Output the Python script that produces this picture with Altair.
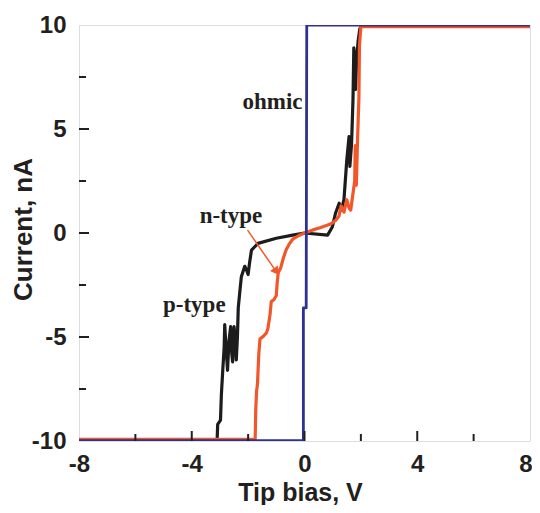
import altair as alt
import pandas as pd

# ---- data ----
p_x = [-8, -3.1, -3.08, -2.98, -2.95, -2.9, -2.85, -2.83, -2.78, -2.73, -2.68, -2.62, -2.58, -2.55,
       -2.5, -2.47, -2.42, -2.38, -2.35, -2.3, -2.24, -2.12, -2.05, -2.0, -1.95, -1.88, -1.65, -1.0,
       -0.42, 0.0, 0.82, 0.99, 1.1, 1.23, 1.31, 1.4, 1.5, 1.58, 1.61, 1.67, 1.72, 1.75, 1.78, 1.81,
       1.85, 1.9, 1.96, 2.02, 8]
p_y = [-9.97, -9.97, -9.2, -9.0, -7.8, -6.6, -5.5, -4.4, -5.6, -6.6, -5.2, -4.5, -5.8, -6.2,
       -4.5, -4.9, -6.1, -5.0, -3.6, -2.9, -2.1, -1.6, -1.8, -2.0, -1.44, -0.82, -0.5, -0.25,
       -0.1, 0.0, -0.1, 0.3, 0.95, 1.43, 1.1, 1.6, 3.5, 4.63, 3.2, 4.3, 6.4, 8.9, 8.5, 6.9,
       8.3, 9.2, 9.8, 9.97, 9.97]

n_x = [-8, -1.75, -1.73, -1.7, -1.67, -1.62, -1.58, -1.45, -1.35, -1.3, -1.22, -1.18, -1.08, -1.0,
       -0.97, -0.93, -0.85, -0.75, -0.65, -0.55, -0.42, -0.2, 0.0, 0.3, 0.55, 0.75, 0.95, 1.1,
       1.22, 1.3, 1.4, 1.5, 1.58, 1.64, 1.72, 1.78, 1.8, 1.84, 1.88, 1.93, 1.95, 2.0, 8]
n_y = [-9.92, -9.92, -8.5, -7.6, -7.3, -5.8, -5.1, -4.95, -4.8, -4.6, -3.9, -3.3, -3.2, -3.0,
       -2.4, -1.9, -1.7, -1.2, -0.8, -0.55, -0.3, -0.12, 0.0, 0.15, 0.25, 0.35, 0.45, 0.6,
       0.8, 1.3, 1.0, 1.6, 1.2, 1.1, 1.9, 2.5, 4.2, 2.3, 4.4, 6.5, 9.0, 9.92, 9.92]

o_x = [-8, -0.04, -0.04, 0.06, 0.08, 8]
o_y = [-9.98, -9.98, -3.6, -3.6, 9.99, 9.99]

x_label_vals = [-8, -4, 0, 4, 8]
y_label_vals = [-10, -5, 0, 5, 10]
x_major_ticks = [-4, 0, 4]
x_minor_ticks = [-6, -2, 2, 6]
y_major_ticks = [-5, 0, 5]
y_minor_ticks = [-7.5, -2.5, 2.5, 7.5]

labels = ["ohmic", "n-type", "p-type"]
label_x = [-2.2, -3.72, -5.02]
label_y = [5.96, 0.48, -3.8]

arrow_x = [-2.02, -1.0]
arrow_y = [0.14, -1.86]

# ---- tables ----
def curve(xs, ys, name):
    return pd.DataFrame({"x": xs, "y": ys, "i": range(len(xs)), "s": name})

black_df = curve(p_x, p_y, "p")
orange_df = curve(n_x, n_y, "n")
blue_df = curve(o_x, o_y, "o")
lab_df = pd.DataFrame({"t": labels, "x": label_x, "y": label_y})
arrow_df = pd.DataFrame({"x": arrow_x, "y": arrow_y, "i": [0, 1]})
head_df = pd.DataFrame({"x": [arrow_x[1]], "y": [arrow_y[1]]})

LEFT, TOP = 71, 17
W, H = 451, 416
xs = alt.Scale(domain=[-8, 8], nice=False, zero=False)
ys = alt.Scale(domain=[-10, 10], nice=False, zero=False)

common = dict(grid=False, domain=False, ticks=False, tickSize=0,
              labelFont="Liberation Sans", titleFont="Liberation Sans", labelFontWeight="bold",
              titleFontWeight="bold", labelColor="#231f20", titleColor="#231f20",
              labelExpr="toString(datum.value)", labelFontSize=24)

xaxis = alt.Axis(values=x_label_vals, title="Tip bias, V", labelPadding=11, titleFontSize=25,
                 labelAlign={"condition": {"test": "datum.value >= 8", "value": "right"}, "value": "center"},
                 labelOffset={"condition": {"test": "datum.value >= 8", "value": 2}, "value": 0},
                 titleX=221, titleY=59, titleBaseline="alphabetic", titleAnchor="middle",
                 titleAlign="center", **common)
yaxis = alt.Axis(values=y_label_vals, title="Current, nA", labelPadding=13, titleFontSize=26,
                 titleX=-48, titleY=H / 2 - 4, titleAngle=270, titleBaseline="alphabetic",
                 titleAlign="center", titleAnchor="middle", **common)

def base_line(df, color, w):
    return alt.Chart(df).mark_line(color=color, strokeWidth=w, clip=True, strokeJoin="round").encode(
        x=alt.X("x:Q", scale=xs, axis=xaxis),
        y=alt.Y("y:Q", scale=ys, axis=yaxis),
        order="i:Q",
    )

black = base_line(black_df, "#1c1c1c", 3.2)
orange = base_line(orange_df, "#f2572a", 3.2)
blue = base_line(blue_df, "#2e3192", 2.8)

arrow = alt.Chart(arrow_df).mark_line(color="#f2572a", strokeWidth=1.5).encode(
    x=alt.X("x:Q", scale=xs), y=alt.Y("y:Q", scale=ys), order="i:Q")
head = alt.Chart(head_df).mark_point(shape="triangle-up", filled=True, color="#f2572a", size=90,
                                     angle=145, opacity=1).encode(
    x=alt.X("x:Q", scale=xs), y=alt.Y("y:Q", scale=ys))

text = alt.Chart(lab_df).mark_text(font="Liberation Serif", fontWeight="bold", fontSize=23,
                                   align="left", baseline="alphabetic", color="#231f20").encode(
    x=alt.X("x:Q", scale=xs), y=alt.Y("y:Q", scale=ys), text="t:N")

def xticks(vals, length):
    return alt.Chart(pd.DataFrame({"v": vals})).mark_rule(color="#231f20", strokeWidth=2).encode(
        x=alt.X("v:Q", scale=xs), y=alt.value(H), y2=alt.value(H - length))

def yticks(vals, length):
    return alt.Chart(pd.DataFrame({"v": vals})).mark_rule(color="#231f20", strokeWidth=2).encode(
        y=alt.Y("v:Q", scale=ys), x=alt.value(0), x2=alt.value(length))

chart = alt.layer(
    black, orange, blue, arrow, head, text,
    xticks(x_major_ticks, 10), xticks(x_minor_ticks, 7),
    yticks(y_major_ticks, 10), yticks(y_minor_ticks, 7),
).properties(
    width=W, height=H, autosize="none",
    padding={"left": LEFT, "top": TOP, "right": 524 - LEFT - W, "bottom": 497 - TOP - H},
).configure_view(stroke="#231f20", strokeWidth=2.6).configure(background="white")

chart.save("out.html", embed_options={"renderer": "svg", "actions": False})
